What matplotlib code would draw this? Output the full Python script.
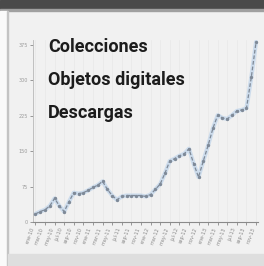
import matplotlib
matplotlib.use("Agg")
import matplotlib.pyplot as plt
from matplotlib.patches import Rectangle

# values
values = [17, 22, 26, 34, 50, 34, 22, 43, 62, 60, 62, 67, 73, 78, 86, 69, 56, 47,
          54, 56, 56, 56, 56, 54, 58, 69, 80, 103, 129, 134, 140, 144, 155, 123, 95,
          129, 162, 198, 226, 220, 218, 226, 235, 237, 241, 306, 381]
yticks = [0, 75, 150, 225, 300, 375]
ylabels = ["0", "75", "150", "225", "300", "375"]
months = ["ene", "feb", "mar", "abr", "may", "jun", "jul", "ago", "sep", "oct", "nov", "dic"]
xlabels = [f"{months[i % 12]}-{10 + i // 12}" for i in range(0, len(values), 2)]
legend = ["Colecciones", "Objetos digitales", "Descargas"]

W, H = 264, 266
fig = plt.figure(figsize=(W / 100, H / 100), dpi=100)
fig.patch.set_facecolor("#f1f1f1")

# frame decoration
fig.patches.append(Rectangle((0, 1 - 9 / H), 1, 9 / H, transform=fig.transFigure,
                             color="#4a4a4a", zorder=0))
fig.patches.append(Rectangle((0, 1 - 10.5 / H), 1, 1.5 / H, transform=fig.transFigure,
                             color="#a0a0a0", zorder=0))
fig.patches.append(Rectangle((0, 0), 7 / W, 1 - 10.5 / H, transform=fig.transFigure,
                             color="#fafafa", zorder=0))
fig.patches.append(Rectangle((7 / W, 0), 1.2 / W, 1 - 10.5 / H, transform=fig.transFigure,
                             color="#c4c4c4", zorder=0))
fig.patches.append(Rectangle((8.2 / W, 0), 1 - 8.2 / W, 12 / H, transform=fig.transFigure,
                             color="#dedede", zorder=0))

ax = fig.add_axes([33 / W, 44 / H, 225 / W, 182 / H])
ax.set_facecolor("none")
x = list(range(len(values)))
ax.plot(x, values, color="#cddcec", lw=3.0, solid_capstyle="round", zorder=2)
ax.plot(x, values, color="#7f8a98", lw=0.9, ls=(0, (3, 1.5)), marker="o", ms=1.4, zorder=3)
ax.set_xlim(-0.5, len(values) - 0.6)
ax.set_ylim(0, 385)
ax.set_yticks(yticks)
ax.set_yticklabels(ylabels, fontsize=3.5, color="#9a9a9a")
ax.set_xticks(range(0, len(values), 2))
ax.set_xticklabels(xlabels, fontsize=3.5, color="#8a8a8a", rotation=70, ha="right")
ax.tick_params(axis="both", length=2, width=0.6, color="#888888", pad=1.5)
for s in ["top", "right"]:
    ax.spines[s].set_visible(False)
ax.spines["left"].set_color("#b8b8b8")
ax.spines["left"].set_linewidth(0.6)
ax.spines["bottom"].set_color("#8a8a8a")
ax.spines["bottom"].set_linewidth(0.8)
ax.grid(axis="x", color="#e8e8e8", lw=0.5)

for i, t in enumerate(legend):
    fig.text(48 / W, 1 - (47 + 33 * i) / H, t, fontsize=13, fontweight="bold",
             family=["Roboto", "DejaVu Sans"], color="#1c1c1c",
             va="center", ha="left")

fig.savefig("out.png", dpi=100, facecolor=fig.get_facecolor())
